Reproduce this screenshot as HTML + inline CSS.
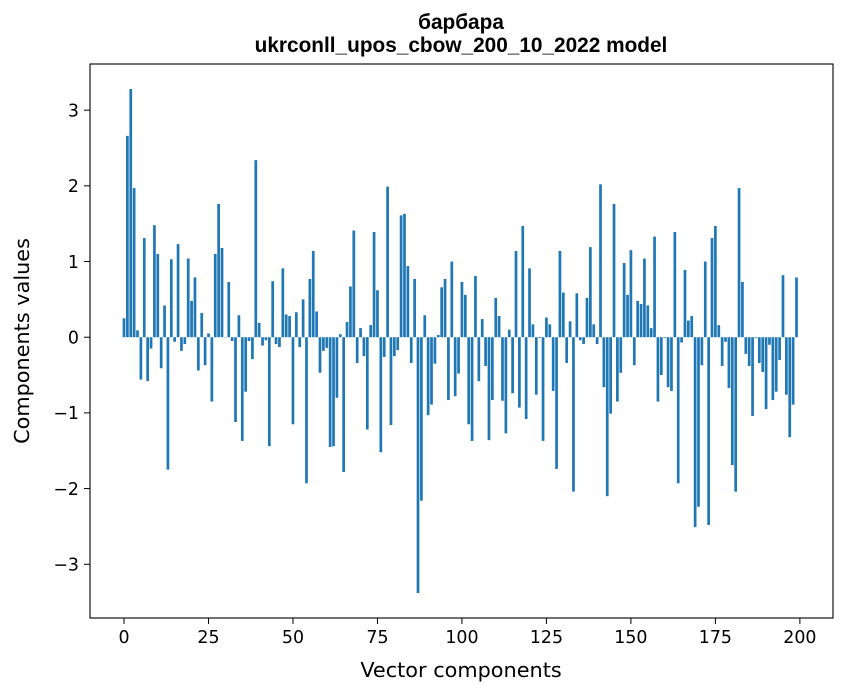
<!DOCTYPE html>
<html><head><meta charset="utf-8"><style>
body{margin:0;background:#fff;font-family:"DejaVu Sans","Liberation Sans",sans-serif;}
svg text{font-family:"DejaVu Sans","Liberation Sans",sans-serif;}
svg text.ttl{font-family:"Liberation Sans","DejaVu Sans",sans-serif;}
</style></head><body>
<svg id="chart" width="847" height="696" xmlns="http://www.w3.org/2000/svg">
<rect width="847" height="696" fill="#fff"/>
<text class="ttl" x="461" y="29" text-anchor="middle" font-size="20.8" font-weight="bold">барбара</text>
<text class="ttl" x="461" y="52" text-anchor="middle" font-size="20.8" font-weight="bold">ukrconll_upos_cbow_200_10_2022 model</text>
<g id="bars"></g>
<g id="axes"></g>
<text x="461" y="677" text-anchor="middle" font-size="20.8">Vector components</text>
<text transform="translate(29,341) rotate(-90)" text-anchor="middle" font-size="20.8">Components values</text>
</svg>
<script>
const values=[0.25,2.66,3.28,1.97,0.09,-0.56,1.31,-0.58,-0.15,1.48,1.10,-0.41,0.42,-1.75,1.03,-0.06,1.23,-0.18,-0.09,1.04,0.48,0.79,-0.44,0.32,-0.37,0.05,-0.85,1.10,1.76,1.18,0.0,0.73,-0.05,-1.12,0.29,-1.37,-0.72,-0.05,-0.29,2.34,0.19,-0.11,-0.04,-1.44,0.74,-0.09,-0.13,0.91,0.30,0.28,-1.15,0.33,-0.13,0.50,-1.93,0.77,1.14,0.34,-0.47,-0.18,-0.14,-1.45,-1.44,-0.80,0.04,-1.78,0.20,0.67,1.41,-0.34,0.12,-0.25,-1.22,0.16,1.39,0.62,-1.52,-0.26,1.99,-1.16,-0.25,-0.17,1.61,1.63,0.94,-0.34,0.77,-3.38,-2.16,0.29,-1.03,-0.89,-0.35,0.03,0.66,0.77,-0.83,1.00,-0.78,-0.48,0.73,0.56,-1.15,-1.37,0.81,-0.58,0.24,-0.38,-1.36,-0.83,0.52,0.28,-0.84,-1.27,0.10,-0.74,1.14,-0.93,1.47,-1.08,0.91,0.17,-0.76,-0.01,-1.37,0.26,0.17,-0.71,-1.74,1.14,0.59,-0.34,0.21,-2.04,0.58,-0.04,-0.09,0.52,1.19,0.17,-0.09,2.02,-0.66,-2.10,-1.01,1.76,-0.85,-0.47,0.98,0.56,1.15,-0.37,0.48,0.44,1.04,0.42,0.12,1.33,-0.85,-0.50,-0.01,-0.66,-0.71,1.39,-1.93,-0.07,0.89,0.22,0.28,-2.51,-2.24,-0.37,1.00,-2.48,1.31,1.47,0.16,-0.38,-0.06,-0.67,-1.69,-2.04,1.97,0.73,-0.22,-0.38,-1.04,-0.01,-0.34,-0.46,-0.95,-0.10,-0.83,-0.72,-0.30,0.82,-0.76,-1.32,-0.89,0.79];
const xTicks=[0,25,50,75,100,125,150,175,200];
const yTicks=[-3,-2,-1,0,1,2,3];
const yTickLabels=["\u22123","\u22122","\u22121","0","1","2","3"];
const L=90,R=833,T=64,B=618;
const xMin=-10.06,xMax=209.8,yMin=-3.71,yMax=3.61;
const sx=v=>L+(v-xMin)/(xMax-xMin)*(R-L);
const sy=v=>B-(v-yMin)/(yMax-yMin)*(B-T);
const NS="http://www.w3.org/2000/svg";
const bars=document.getElementById('bars');
values.forEach((v,i)=>{
  const r=document.createElementNS(NS,'rect');
  const x0=sx(i-0.4),x1=sx(i+0.4);
  const y0=sy(Math.max(v,0)),y1=sy(Math.min(v,0));
  r.setAttribute('x',x0);r.setAttribute('width',x1-x0);
  r.setAttribute('y',y0);r.setAttribute('height',Math.max(y1-y0,0.3));
  r.setAttribute('fill','#1f77b4');
  
  
  bars.appendChild(r);
});
const ax=document.getElementById('axes');
const frame=document.createElementNS(NS,'rect');
frame.setAttribute('x',L);frame.setAttribute('y',T);frame.setAttribute('width',R-L);frame.setAttribute('height',B-T);
frame.setAttribute('fill','none');frame.setAttribute('stroke','#000');frame.setAttribute('stroke-width','1.1');


ax.appendChild(frame);
xTicks.forEach(t=>{
  const x=sx(t);
  const l=document.createElementNS(NS,'line');
  l.setAttribute('x1',x);l.setAttribute('x2',x);l.setAttribute('y1',B);l.setAttribute('y2',B+6);l.setAttribute('stroke','#000');
  
  
  ax.appendChild(l);
  const tx=document.createElementNS(NS,'text');
  tx.setAttribute('x',x);tx.setAttribute('y',B+25);tx.setAttribute('text-anchor','middle');tx.setAttribute('font-size','17.4');
  tx.textContent=String(t);
  
  
  ax.appendChild(tx);
});
yTicks.forEach((t,i)=>{
  const y=sy(t);
  const l=document.createElementNS(NS,'line');
  l.setAttribute('x1',L-6);l.setAttribute('x2',L);l.setAttribute('y1',y);l.setAttribute('y2',y);l.setAttribute('stroke','#000');
  
  
  ax.appendChild(l);
  const tx=document.createElementNS(NS,'text');
  tx.setAttribute('x',L-11);tx.setAttribute('y',y+6.3);tx.setAttribute('text-anchor','end');tx.setAttribute('font-size','17.4');
  tx.textContent=yTickLabels[i];
  
  
  ax.appendChild(tx);
});
</script>
</body></html>
